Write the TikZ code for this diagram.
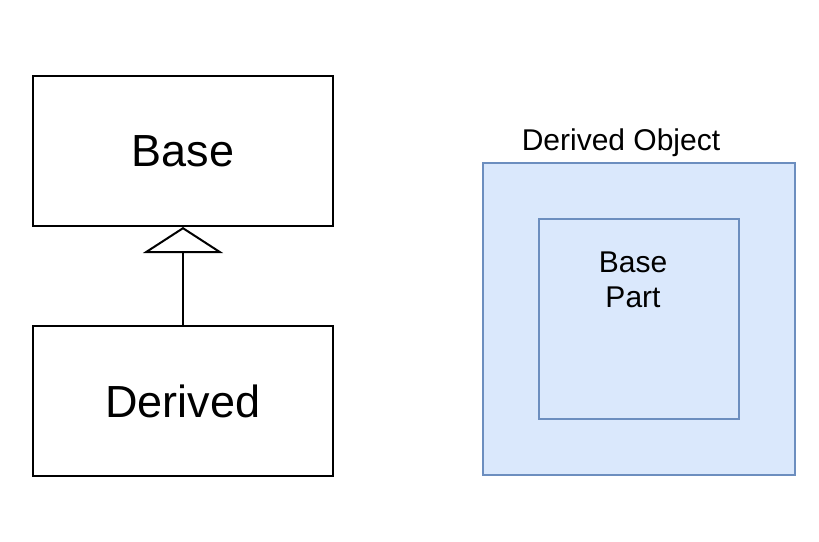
\documentclass[tikz,border=0pt]{standalone}
\usepackage{fontspec}
\setmainfont{Liberation Sans}
\usetikzlibrary{arrows.meta}
\definecolor{bfill}{HTML}{DAE8FC}
\definecolor{bline}{HTML}{6C8EBF}
\tikzset{
  classbox/.style={draw=black, line width=2pt, minimum width=300pt, minimum height=150pt, inner sep=0pt, font=\fontsize{45}{54}\selectfont},
  bluebox/.style={draw=bline, fill=bfill, line width=2pt, inner sep=0pt},
  smalltext/.style={font=\fontsize{30}{35}\selectfont, inner sep=0pt, align=center},
  inherit/.style={line width=2pt, -{Triangle[open, length=26pt, width=80pt, line width=2pt]}}
}
\begin{document}
\begin{tikzpicture}[x=1pt, y=-1pt]
\useasboundingbox (0,0) rectangle (819,541);
\node[classbox] (base) at (183,151) {Base};
\node[classbox] (derived) at (183,401) {Derived};
\draw[inherit] (derived.north) -- (base.south);
\node[bluebox, minimum width=312pt, minimum height=312pt] (outer) at (639,319) {};
\node[bluebox, minimum width=200pt, minimum height=200pt] (inner) at (639,319) {};
\node[smalltext] (dolabel) at (621,143) {Derived Object};
\node[smalltext] (bplabel) at (633,280) {Base\\Part};
\end{tikzpicture}
\end{document}
